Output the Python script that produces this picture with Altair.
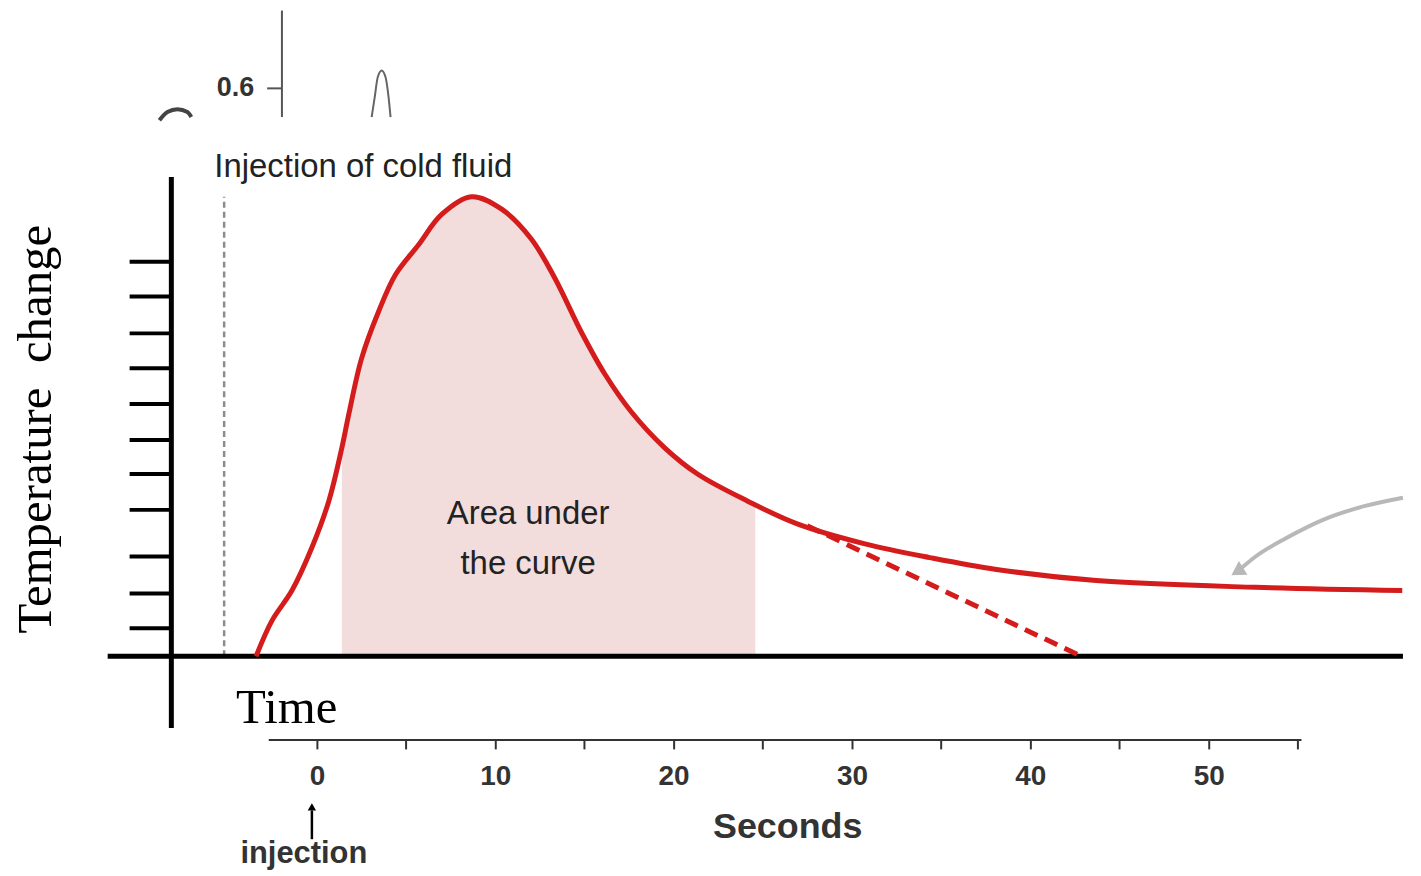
import altair as alt
import pandas as pd

# ---------------- data ----------------
# thermodilution curve (x in seconds, y in arbitrary temperature-change units)
curve_t = [-3.41, -2.51, -1.40, -0.28, 0.67, 1.40, 1.79, 2.51, 3.46, 4.41, 5.70, 6.98, 8.66,
           10.34, 12.01, 13.35, 14.80, 16.15, 17.60, 19.50, 21.34, 24.13, 26.93, 30.67, 34.36,
           38.10, 43.69, 52.63, 60.85]
curve_v = [0.0, 1.00, 1.83, 3.03, 4.33, 5.81, 6.75, 8.31, 9.61, 10.64, 11.47, 12.31, 12.81,
           12.47, 11.64, 10.53, 9.06, 7.86, 6.83, 5.81, 5.08, 4.33, 3.69, 3.14, 2.75,
           2.42, 2.11, 1.92, 1.83]
# shaded "area under the curve" section
shade_t = [1.40, 1.79, 2.51, 3.46, 4.41, 5.70, 6.98, 8.66, 10.34, 12.01, 13.35, 14.80, 16.15,
           17.60, 19.50, 21.34, 24.13, 24.58]
shade_v = [5.81, 6.75, 8.31, 9.61, 10.64, 11.47, 12.31, 12.81, 12.47, 11.64, 10.53, 9.06, 7.86,
           6.83, 5.81, 5.08, 4.33, 4.23]
# extrapolated exponential decay (dashed)
extra_t = [27.49, 42.85]
extra_v = [3.64, 0.0]
# y-axis tick marks of the main diagram
ytick_v = [11.0, 10.03, 9.0, 8.03, 7.03, 6.03, 5.08, 4.08, 2.78, 1.75, 0.78]
# seconds axis ticks
sec_ticks = [0, 5, 10, 15, 20, 25, 30, 35, 40, 45, 50, 55]
# fragment of the background chart (top)
peak_t = [3.07, 3.24, 3.41, 3.63, 3.85, 4.02, 4.13]
peak_v = [15.03, 15.58, 16.14, 16.33, 16.14, 15.58, 15.03]
arc_t = [-8.83, -8.38, -7.82, -7.26, -7.04]
arc_v = [14.94, 15.17, 15.25, 15.17, 15.03]
# grey pointer arrow on the right
garrow_t = [60.89, 58.77, 56.54, 54.30, 52.63, 51.79]
garrow_v = [4.42, 4.19, 3.83, 3.28, 2.78, 2.44]

# ---------------- scales / encodings ----------------
xs = alt.Scale(domain=[-17.318, 60.894], nice=False, zero=False)
ys = alt.Scale(domain=[-5.611, 18.0], nice=False, zero=False)

xaxis = alt.Axis(
    values=sec_ticks,
    labelExpr="datum.value % 10 == 0 && datum.value <= 50 ? datum.label : ''",
    domain=False, grid=False, ticks=True, tickSize=9, tickColor="#333333", tickWidth=2,
    labelFont="Liberation Sans", labelFontSize=28, labelFontWeight="bold",
    labelColor="#333333", labelPadding=14, labelFlush=False, labelOverlap=False,
    offset=-118,
    title="Seconds", titleFont="Liberation Sans", titleFontSize=36, titleFontWeight="bold",
    titleColor="#333333", titleX=782, titleY=98, titleBaseline="alphabetic", titleAlign="center",
)


def X(f="x"):
    return alt.X(f, type="quantitative", scale=xs, axis=xaxis)


def Y(f="y"):
    return alt.Y(f, type="quantitative", scale=ys, axis=None)


def segs(rows, color, width, dash=None, cap="butt"):
    df = pd.DataFrame(rows, columns=["x", "x2", "y", "y2"])
    kw = dict(color=color, strokeWidth=width, strokeCap=cap)
    if dash:
        kw["strokeDash"] = dash
    return alt.Chart(df).mark_rule(**kw).encode(
        x=X("x"), x2=alt.X2("x2"), y=Y("y"), y2=alt.Y2("y2"))


def texts(rows, **kw):
    df = pd.DataFrame(rows, columns=["x", "y", "label"])
    return alt.Chart(df).mark_text(**kw).encode(x=X("x"), y=Y("y"), text="label:N")


curve_df = pd.DataFrame({"x": curve_t, "y": curve_v})
shade_df = pd.DataFrame({"x": shade_t, "y": shade_v, "y0": [0.0] * len(shade_t)})
extra_df = pd.DataFrame({"x": extra_t, "y": extra_v})
peak_df = pd.DataFrame({"x": peak_t, "y": peak_v})
arc_df = pd.DataFrame({"x": arc_t, "y": arc_v})
garrow_df = pd.DataFrame({"x": garrow_t, "y": garrow_v})

RED = "#d41c1c"
INTERP = "catmull-rom"

shade = alt.Chart(shade_df).mark_area(color="#f2dcdc", interpolate=INTERP).encode(
    x=X("x"), y=Y("y"), y2=alt.Y2("y0"))

curve = alt.Chart(curve_df).mark_line(color=RED, strokeWidth=5, interpolate=INTERP).encode(
    x=X("x"), y=Y("y"))

extra = alt.Chart(extra_df).mark_line(color=RED, strokeWidth=5, strokeDash=[14, 8]).encode(
    x=X("x"), y=Y("y"))

inj_dash = segs([[-5.20, -5.20, 0.0, 12.81]], "#8c8c8c", 2.5, dash=[6, 4])

main_axes = segs([[-8.16, -8.16, -2.0, 13.36],      # vertical axis
                  [-11.73, 60.89, 0.0, 0.0]],       # horizontal axis
                 "#000000", 5)
yticks = segs([[-10.50, -8.16, v, v] for v in ytick_v], "#000000", 4)

sec_line = segs([[-2.7, 55.2, -2.333, -2.333]], "#333333", 2)

# background chart fragment at the top
top_axis = segs([[-1.96, -1.96, 15.03, 18.0], [-2.79, -1.96, 15.83, 15.83]], "#555555", 2)
peak = alt.Chart(peak_df).mark_line(color="#666666", strokeWidth=2, interpolate="monotone").encode(
    x=X("x"), y=Y("y"))
arc = alt.Chart(arc_df).mark_line(color="#444444", strokeWidth=4, interpolate="monotone").encode(
    x=X("x"), y=Y("y"))
top_label = texts([[-3.52, 15.83, "0.6"]], font="Liberation Sans", fontSize=27, fontWeight="bold",
                  color="#333333", align="right", baseline="middle")

# grey curved pointer
garrow = alt.Chart(garrow_df).mark_line(color="#b8b8b8", strokeWidth=4, interpolate="monotone").encode(
    x=X("x"), y=Y("y"))
garrow_head = alt.Chart(pd.DataFrame({"x": [51.6], "y": [2.36]})).mark_point(
    shape="triangle-up", filled=True, color="#b8b8b8", size=260, angle=238, opacity=1).encode(
    x=X("x"), y=Y("y"))

# injection arrow below the seconds axis
inj_arrow = segs([[-0.28, -0.28, -5.10, -4.30]], "#000000", 2.5)
inj_head = alt.Chart(pd.DataFrame({"x": [-0.28], "y": [-4.20]})).mark_point(
    shape="triangle-up", filled=True, color="#000000", size=70, opacity=1).encode(
    x=X("x"), y=Y("y"))

SANS = "Liberation Sans"

t_inj = texts([[-5.75, 13.36, "Injection of cold fluid"]], font=SANS, fontSize=33,
              color="#222222", align="left", baseline="alphabetic")
t_area = texts([[11.84, 3.97, "Area under"], [11.84, 2.58, "the curve"]], font=SANS,
               fontSize=33, color="#222222", align="center", baseline="middle")
t_temp = texts([[-15.75, 6.33, "Temperature\u00a0\u00a0change"]], font="Liberation Serif",
               fontSize=49, color="#000000", align="center", baseline="middle", angle=270)
t_time = texts([[-4.53, -1.86, "Time"]], font="Liberation Serif", fontSize=49,
               color="#000000", align="left", baseline="alphabetic")
t_injection = texts([[-0.73, -5.52, "injection"]], font=SANS, fontSize=31,
                    fontWeight="bold", color="#333333", align="center", baseline="middle")

chart = alt.layer(
    shade, top_axis, peak, arc, top_label, inj_dash, yticks, main_axes, sec_line,
    extra, curve, garrow, garrow_head, inj_arrow, inj_head,
    t_inj, t_area, t_temp, t_time, t_injection,
).properties(
    width=1400, height=850, padding=0, background="white"
).configure_view(stroke=None)

chart.save("out.html", embed_options={"renderer": "svg", "actions": False})
